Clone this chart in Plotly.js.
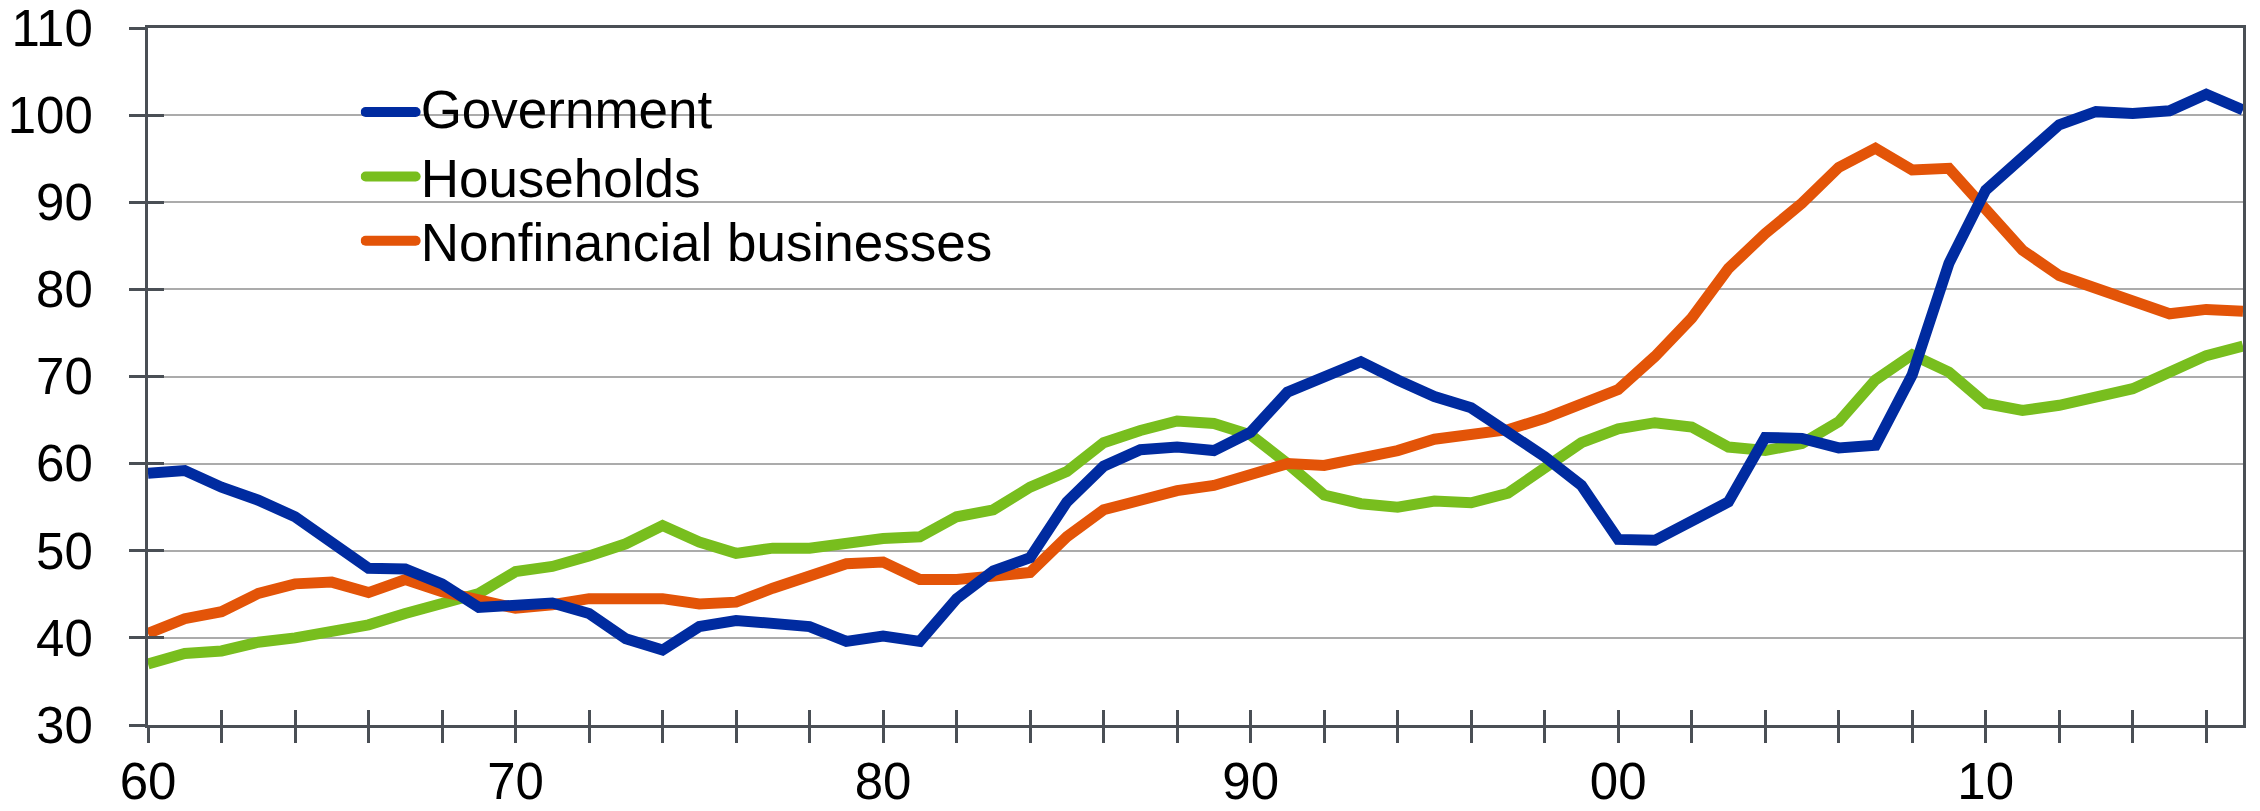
<!DOCTYPE html>
<html>
<head>
<meta charset="utf-8">
<script src="https://cdn.plot.ly/plotly-3.0.1.min.js"></script>
<style>
  html, body { margin: 0; padding: 0; background: #ffffff; }
  #chart { width: 2260px; height: 811px; }
  .legendlines path { stroke-linecap: round; }
  /* centre the legend captions on their line keys */
  .legend .legendtext { transform: translate(0px, -5px); }
</style>
</head>
<body>
<div id="chart"></div>
<script>
// Debt by sector, percent of GDP, annual 1960-2017
const years = [
  1960, 1961, 1962, 1963, 1964, 1965, 1966, 1967, 1968, 1969,
  1970, 1971, 1972, 1973, 1974, 1975, 1976, 1977, 1978, 1979,
  1980, 1981, 1982, 1983, 1984, 1985, 1986, 1987, 1988, 1989,
  1990, 1991, 1992, 1993, 1994, 1995, 1996, 1997, 1998, 1999,
  2000, 2001, 2002, 2003, 2004, 2005, 2006, 2007, 2008, 2009,
  2010, 2011, 2012, 2013, 2014, 2015, 2016, 2017
];

const government = [
  58.9, 59.2, 57.3, 55.8, 53.9, 51.0, 48.0, 47.9, 46.2, 43.5,
  43.8, 44.0, 42.8, 39.9, 38.6, 41.3, 42.0, 41.7, 41.3, 39.6,
  40.2, 39.6, 44.5, 47.7, 49.2, 55.6, 59.7, 61.6, 61.9, 61.5,
  63.6, 68.2, 70.0, 71.7, 69.6, 67.7, 66.4, 63.6, 60.8, 57.5,
  51.3, 51.2, 53.4, 55.6, 63.0, 62.9, 61.8, 62.1, 70.2, 83.0,
  91.4, 95.2, 98.9, 100.4, 100.2, 100.5, 102.4, 100.6
];

const households = [
  37.0, 38.2, 38.5, 39.5, 40.0, 40.9, 41.5, 42.8, 43.8, 45.1,
  47.6, 48.2, 49.4, 50.8, 52.9, 51.0, 49.7, 50.3, 50.3, 51.0,
  51.4, 51.6, 53.9, 54.7, 57.3, 59.1, 62.4, 63.8, 64.9, 64.6,
  63.3, 60.0, 56.4, 55.4, 55.0, 55.7, 55.5, 56.6, 59.6, 62.4,
  64.0, 64.7, 64.2, 61.9, 61.5, 62.3, 64.8, 69.6, 72.5, 70.5,
  66.9, 66.1, 66.7, 67.5, 68.6, 70.5, 72.4, 73.5
];

const nonfinancial = [
  40.5, 42.2, 43.0, 45.1, 46.2, 46.4, 45.2, 46.7, 45.3, 44.4,
  43.4, 43.8, 44.5, 44.5, 44.5, 43.9, 44.1, 45.7, 47.2, 48.5,
  48.7, 46.7, 46.7, 47.0, 47.5, 51.6, 54.7, 55.8, 56.9, 57.5,
  58.7, 60.0, 59.8, 60.6, 61.5, 62.8, 63.5, 63.9, 65.2, 66.8,
  68.5, 72.3, 76.7, 82.4, 86.4, 89.9, 94.0, 96.2, 93.7, 93.9,
  89.1, 84.5, 81.6, 80.1, 78.9, 77.2, 77.7, 77.5
];

const seriesNames = ['Government', 'Households', 'Nonfinancial businesses'];

// x-axis ticks: a mark every second year, labelled each decade
const tickYears = [
  1960, 1962, 1964, 1966, 1968, 1970, 1972, 1974, 1976, 1978,
  1980, 1982, 1984, 1986, 1988, 1990, 1992, 1994, 1996, 1998,
  2000, 2002, 2004, 2006, 2008, 2010, 2012, 2014, 2016
];
const decadeYears = [1960, 1970, 1980, 1990, 2000, 2010];
const decadeLabels = ['60', '70', '80', '90', '00', '10'];

const yTicks = [30, 40, 50, 60, 70, 80, 90, 100, 110];

const tickText = tickYears.map(function (yr) {
  const i = decadeYears.indexOf(yr);
  return i >= 0 ? decadeLabels[i] : '';
});

const FONT = 'Liberation Sans, Arial, Helvetica, sans-serif';
const AXIS_COLOR = '#4a4f55';
const GRID_COLOR = '#ababab';
const COLORS = ['#002ba0', '#78be1e', '#e35408'];
const X_RANGE = [1960, 2017];
const Y_RANGE = [30, 110];

function lineTrace(values, idx, legendId) {
  return {
    type: 'scatter',
    mode: 'lines',
    x: years,
    y: values,
    name: seriesNames[idx],
    legend: legendId,
    line: { color: COLORS[idx], width: 11 },
    hoverinfo: 'x+y+name'
  };
}

const traces = [
  lineTrace(households, 1, 'legend2'),
  lineTrace(nonfinancial, 2, 'legend3'),
  lineTrace(government, 0, 'legend'),
  // carries the inner half of the crossing tick marks
  { type: 'scatter', mode: 'lines', x: [], y: [], xaxis: 'x2', yaxis: 'y2',
    showlegend: false, hoverinfo: 'skip' }
];

function legendAt(yPaper) {
  return {
    x: 0.1015, xanchor: 'left',
    y: yPaper, yanchor: 'middle',
    bgcolor: 'rgba(0,0,0,0)',
    borderwidth: 0,
    itemwidth: 50,
    font: { family: FONT, size: 53, color: '#000000' }
  };
}

const layout = {
  width: 2260,
  height: 811,
  margin: { l: 148, r: 17, t: 28, b: 86, pad: 0 },
  paper_bgcolor: '#ffffff',
  plot_bgcolor: '#ffffff',
  font: { family: FONT, color: '#000000' },
  showlegend: true,
  legend: legendAt(0.8794),
  legend2: legendAt(0.7869),
  legend3: legendAt(0.6946),
  xaxis: {
    range: X_RANGE,
    tickmode: 'array',
    tickvals: tickYears,
    ticktext: tickText,
    ticks: 'outside',
    ticklen: 15,
    tickwidth: 3,
    tickcolor: AXIS_COLOR,
    ticklabelstandoff: -5,
    ticklabeloverflow: 'allow',
    tickfont: { family: FONT, size: 51, color: '#000000' },
    showline: true,
    linecolor: AXIS_COLOR,
    linewidth: 3,
    mirror: true,
    showgrid: false,
    zeroline: false
  },
  yaxis: {
    range: Y_RANGE,
    tickmode: 'array',
    tickvals: yTicks,
    ticks: 'outside',
    ticklen: 16,
    tickwidth: 3,
    tickcolor: AXIS_COLOR,
    ticklabelstandoff: 26,
    ticklabeloverflow: 'allow',
    tickfont: { family: FONT, size: 51, color: '#000000' },
    showline: true,
    linecolor: AXIS_COLOR,
    linewidth: 3,
    mirror: true,
    showgrid: true,
    gridcolor: GRID_COLOR,
    gridwidth: 2,
    zeroline: false
  },
  xaxis2: {
    overlaying: 'x',
    anchor: 'y2',
    side: 'bottom',
    range: X_RANGE,
    tickmode: 'array',
    tickvals: tickYears,
    ticks: 'inside',
    ticklen: 15,
    tickwidth: 3,
    tickcolor: AXIS_COLOR,
    showticklabels: false,
    showline: false,
    showgrid: false,
    zeroline: false
  },
  yaxis2: {
    overlaying: 'y',
    anchor: 'x2',
    side: 'left',
    range: Y_RANGE,
    tickmode: 'array',
    tickvals: yTicks,
    ticks: 'inside',
    ticklen: 16,
    tickwidth: 3,
    tickcolor: AXIS_COLOR,
    showticklabels: false,
    showline: false,
    showgrid: false,
    zeroline: false
  },
  // white panel behind the legend entries, hiding the grid there
  shapes: [{
    type: 'rect',
    xref: 'paper', yref: 'paper',
    x0: 0.0874, x1: 0.421, y0: 0.655, y1: 0.975,
    fillcolor: '#ffffff',
    line: { width: 0 },
    layer: 'between'
  }]
};

Plotly.newPlot('chart', traces, layout, { displayModeBar: false, staticPlot: true });
</script>
</body>
</html>
